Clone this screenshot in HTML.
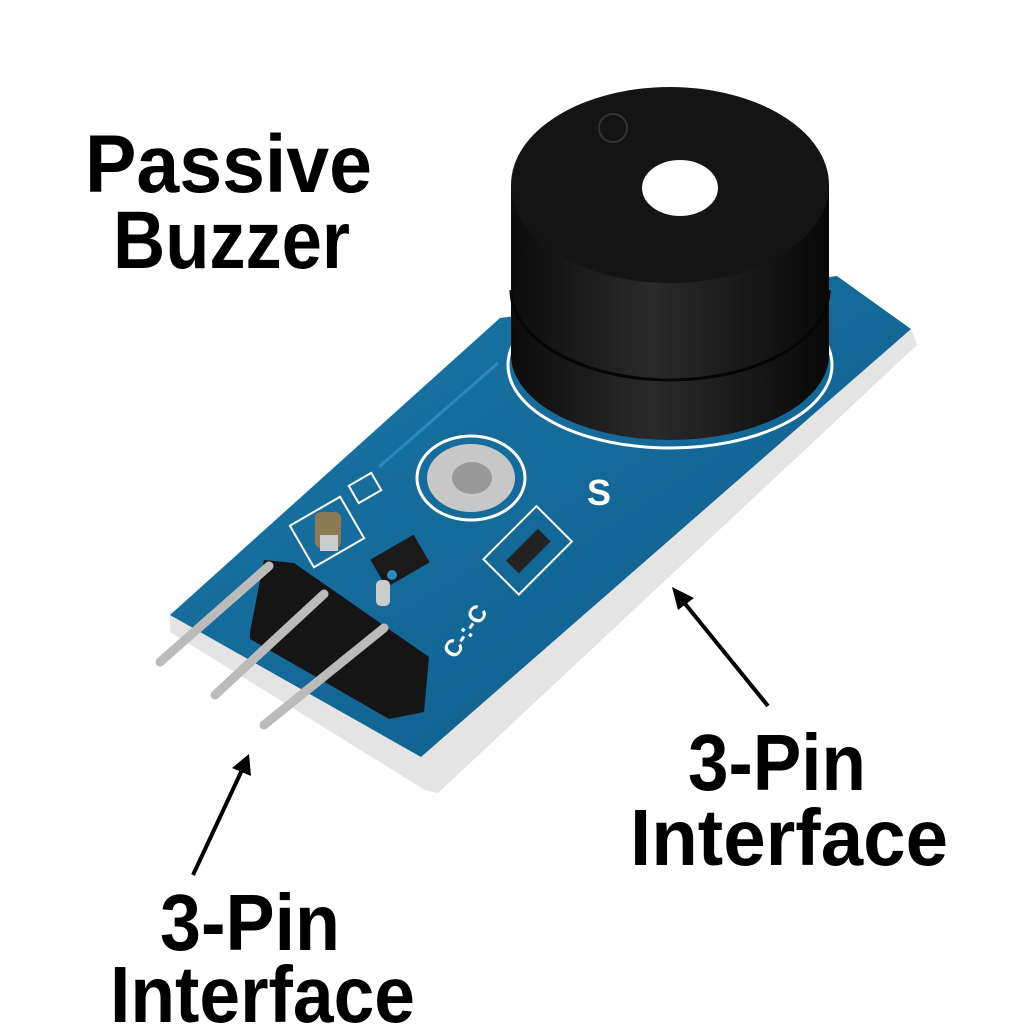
<!DOCTYPE html>
<html><head><meta charset="utf-8"><style>
html,body{margin:0;padding:0;background:#fff;}
svg{display:block;}
text{font-family:"Liberation Sans",sans-serif;font-weight:bold;fill:#000;}
</style></head><body>
<svg width="1024" height="1024" viewBox="0 0 1024 1024" xmlns="http://www.w3.org/2000/svg">
<defs>
<linearGradient id="bl" x1="0" y1="0" x2="1" y2="1">
<stop offset="0" stop-color="#1a78a8"/><stop offset="1" stop-color="#0e5a88"/></linearGradient>
<linearGradient id="bk" x1="0" y1="0" x2="1" y2="0">
<stop offset="0" stop-color="#0c0c0c"/><stop offset="0.45" stop-color="#2a2a2a"/><stop offset="1" stop-color="#080808"/></linearGradient>
</defs>
<!-- board edge -->
<polygon points="170,612 911,329 917,345 438,793 425,790 170,632" fill="#e4e4e4"/>
<!-- board top -->
<polygon points="170,615 500,318 837,276 911,329 421,757" fill="url(#bl)"/>
<polyline points="379,467 498,363" stroke="#2a8abb" stroke-width="3" fill="none"/>
<!-- buzzer white ring -->
<ellipse cx="670" cy="365" rx="162" ry="83" fill="none" stroke="#fff" stroke-width="3"/>
<!-- buzzer body -->
<path d="M511,185 L511,355 A159,85 0 0 0 829,355 L829,185 Z" fill="url(#bk)"/>
<path d="M511,290 A159,90 0 0 0 829,290" fill="none" stroke="#050505" stroke-width="3"/>
<ellipse cx="670" cy="185" rx="159" ry="98" fill="#141414"/>
<ellipse cx="680" cy="188" rx="38" ry="28" fill="#fff"/>
<circle cx="613" cy="128" r="14" fill="none" stroke="#333" stroke-width="2"/>
<!-- mounting hole -->
<ellipse cx="471" cy="478" rx="54" ry="42" fill="none" stroke="#fff" stroke-width="3"/>
<ellipse cx="471" cy="478" rx="44" ry="34" fill="#c8c8c8"/>
<ellipse cx="472" cy="478" rx="20" ry="16" fill="#999"/>
<text x="587" y="505" font-size="36" style="fill:#fff">S</text>
<!-- components -->
<rect x="298" y="508" width="58" height="48" fill="none" stroke="#fff" stroke-width="2" transform="rotate(-30 327 532)"/>
<rect x="315" y="512" width="26" height="36" rx="6" fill="#8b7a55"/>
<rect x="320" y="535" width="18" height="16" fill="#ccc"/>
<rect x="375" y="545" width="50" height="32" fill="#1a1a1a" transform="rotate(-30 400 561)"/>
<rect x="376" y="580" width="14" height="26" rx="5" fill="#ccc"/>
<rect x="490" y="525" width="75" height="50" fill="none" stroke="#fff" stroke-width="2" transform="rotate(-45 528 550)"/>
<rect x="505" y="542" width="45" height="18" fill="#222" transform="rotate(-45 528 550)"/>
<rect x="352" y="478" width="26" height="20" fill="none" stroke="#fff" stroke-width="2" transform="rotate(-30 365 488)"/>
<circle cx="392" cy="575" r="5" fill="#2a8abb"/>
<text x="455" y="660" font-size="24" style="fill:#fff" transform="rotate(-55 455 660)">C-:-C</text>
<!-- header -->
<polygon points="250,632 264,560 294,563 429,657 424,712 389,719 250,639" fill="#151515"/>
<!-- pins -->
<g stroke="#bbb" stroke-width="9" stroke-linecap="round" fill="none">
<polyline points="269,566 160,662"/>
<polyline points="324,594 215,695"/>
<polyline points="384,628 264,725"/>
</g>
<!-- arrows -->
<g stroke="#000" stroke-width="4">
<line x1="768" y1="706" x2="682" y2="600"/>
<line x1="193" y1="875" x2="242" y2="770"/>
</g>
<polygon points="672,587 694,598 678,610" fill="#000"/>
<polygon points="249,754 251,776 232,768" fill="#000"/>
<!-- labels -->
<text x="85" y="192" font-size="82" textLength="287" lengthAdjust="spacingAndGlyphs">Passive</text>
<text x="113" y="268" font-size="82" textLength="237" lengthAdjust="spacingAndGlyphs">Buzzer</text>
<text x="688" y="790" font-size="80" textLength="178" lengthAdjust="spacingAndGlyphs">3-Pin</text>
<text x="630" y="865" font-size="80" textLength="318" lengthAdjust="spacingAndGlyphs">Interface</text>
<text x="160" y="950" font-size="80" textLength="180" lengthAdjust="spacingAndGlyphs">3-Pin</text>
<text x="110" y="1022" font-size="80" textLength="305" lengthAdjust="spacingAndGlyphs">Interface</text>
</svg>
</body></html>
